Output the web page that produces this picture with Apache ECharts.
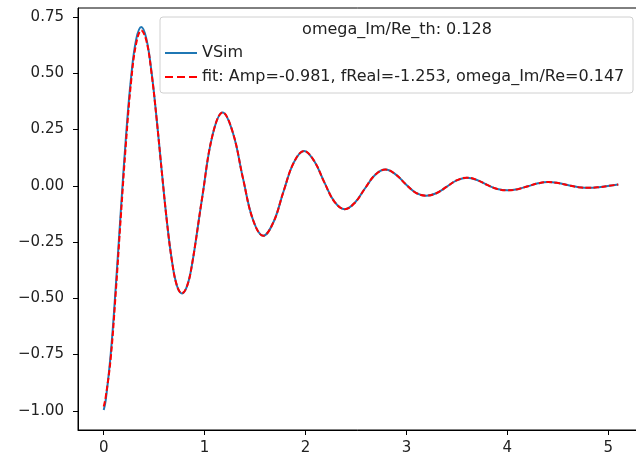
<!DOCTYPE html>
<html>
<head>
<meta charset="utf-8">
<script src="https://cdn.jsdelivr.net/npm/echarts@6/dist/echarts.min.js"></script>
<style>
    html, body { margin: 0; padding: 0; background: #fff; }
    #chart { width: 636px; height: 452px; }
</style>
</head>
<body>
<div id="chart"></div>
<script>
// values
var xs = [0, 0.0191, 0.0695, 0.1199, 0.1703, 0.2208, 0.2712, 0.3216, 0.3720, 0.4224,
    0.4728, 0.5233, 0.5737, 0.6241, 0.6745, 0.7249, 0.7753, 0.8258, 0.8761, 0.9770,
    1.0778, 1.1786, 1.2795, 1.3803, 1.4811, 1.5820, 1.6828, 1.7836, 1.8845, 1.9853,
    2.0861, 2.1870, 2.2878, 2.3886, 2.4894, 2.5903, 2.6911, 2.7919, 2.8928, 2.9936,
    3.0944, 3.1953, 3.2961, 3.3969, 3.4978, 3.5986, 3.6994, 3.8003, 3.9011, 4.0019,
    4.1028, 4.2036, 4.3044, 4.4052, 4.5061, 4.6069, 4.7077, 4.8086, 4.9094, 5.0102, 5.1];

var vsim = [-0.996, -0.955, -0.747, -0.445, -0.105, 0.220, 0.482, 0.650, 0.706, 0.654,
    0.509, 0.303, 0.072, -0.150, -0.329, -0.443, -0.478, -0.446, -0.347, -0.049,
    0.224, 0.326, 0.237, 0.033, -0.153, -0.222, -0.161, -0.023, 0.104, 0.155,
    0.110, 0.015, -0.071, -0.104, -0.075, -0.011, 0.049, 0.072, 0.051, 0.007,
    -0.031, -0.044, -0.033, -0.005, 0.024, 0.036, 0.026, 0.004, -0.014, -0.020,
    -0.015, -0.002, 0.011, 0.017, 0.012, 0.002, -0.006, -0.009, -0.006, 0.000, 0.006];

var fit = [-0.981, -0.940, -0.765, -0.470, -0.132, 0.192, 0.462, 0.632, 0.690, 0.645,
    0.504, 0.302, 0.071, -0.150, -0.329, -0.443, -0.478, -0.446, -0.347, -0.049,
    0.224, 0.326, 0.237, 0.033, -0.153, -0.222, -0.161, -0.023, 0.104, 0.155,
    0.110, 0.015, -0.071, -0.104, -0.075, -0.011, 0.049, 0.072, 0.051, 0.007,
    -0.031, -0.044, -0.033, -0.005, 0.024, 0.036, 0.026, 0.004, -0.014, -0.020,
    -0.015, -0.002, 0.011, 0.017, 0.012, 0.002, -0.006, -0.009, -0.006, 0.000, 0.006];

var xTicks = [0, 1, 2, 3, 4, 5];
var yTicks = [-1, -0.75, -0.5, -0.25, 0, 0.25, 0.5, 0.75];

var legendTitle = 'omega_Im/Re_th: 0.128';
var names = ['VSim', 'fit: Amp=-0.981, fReal=-1.253, omega_Im/Re=0.147'];

(function () {
    var myChart = echarts.init(document.getElementById('chart'));
    var font = 'DejaVu Sans';

    function pairs(ys) {
        return xs.map(function (x, i) { return [x, ys[i]]; });
    }

    var option = {
        animation: false,
        backgroundColor: '#fff',
        textStyle: { fontFamily: font },
        grid: {
            left: 78, right: -8, top: 8, bottom: 22,
            show: true,
            borderColor: '#000',
            borderWidth: 1,
            containLabel: false,
            outerBoundsMode: 'none'
        },
        xAxis: {
            type: 'value',
            min: -0.255,
            max: 5.355,
            splitLine: { show: false },
            axisLine: { onZero: false, lineStyle: { color: '#000', width: 1 } },
            axisTick: { length: 5, lineStyle: { color: '#000' }, customValues: xTicks },
            axisLabel: {
                customValues: xTicks,
                color: '#222', fontSize: 15, fontFamily: font, margin: 11,
                formatter: function (v) { return String(v); }
            }
        },
        yAxis: {
            type: 'value',
            min: -1.085,
            max: 0.79,
            splitLine: { show: false },
            axisLine: { onZero: false, lineStyle: { color: '#000', width: 1 } },
            axisTick: { length: 5, lineStyle: { color: '#000' }, customValues: yTicks },
            axisLabel: {
                customValues: yTicks,
                color: '#222', fontSize: 15, fontFamily: font, margin: 14,
                formatter: function (v) { return v.toFixed(2).replace('-', '\u2212'); }
            }
        },
        graphic: [
            {
                type: 'rect',
                shape: { x: 160, y: 17, width: 473, height: 76, r: 3 },
                style: { fill: 'rgba(255,255,255,0.8)', stroke: '#d0d0d0', lineWidth: 1 },
                z: 50
            },
            {
                type: 'text',
                x: 397, y: 30,
                style: {
                    text: legendTitle, fill: '#222', font: '16px "DejaVu Sans"',
                    textAlign: 'center', textVerticalAlign: 'middle'
                },
                z: 51
            }
        ],
        legend: {
            orient: 'vertical',
            left: 165,
            top: 45,
            padding: 0,
            itemWidth: 32,
            itemHeight: 2,
            itemGap: 8,
            z: 52,
            textStyle: { color: '#222', fontSize: 16, fontFamily: font, lineHeight: 16 },
            data: [
                { name: names[0], icon: 'rect' },
                { name: names[1], icon: 'path://M0,0h8v2h-8z M12,0h8v2h-8z M24,0h8v2h-8z' }
            ]
        },
        series: [
            {
                name: names[0],
                type: 'line',
                showSymbol: false,
                symbol: 'none',
                smooth: 0.4,
                lineStyle: { color: '#1f77b4', width: 2 },
                itemStyle: { color: '#1f77b4' },
                data: pairs(vsim)
            },
            {
                name: names[1],
                type: 'line',
                showSymbol: false,
                symbol: 'none',
                smooth: 0.4,
                lineStyle: { color: '#ff0000', width: 2, type: [5.5, 2.4] },
                itemStyle: { color: '#ff0000' },
                data: pairs(fit)
            }
        ]
    };
    myChart.setOption(option);
    window.addEventListener('resize', function () {
        myChart.resize();
    });
})();
</script>
</body>
</html>
